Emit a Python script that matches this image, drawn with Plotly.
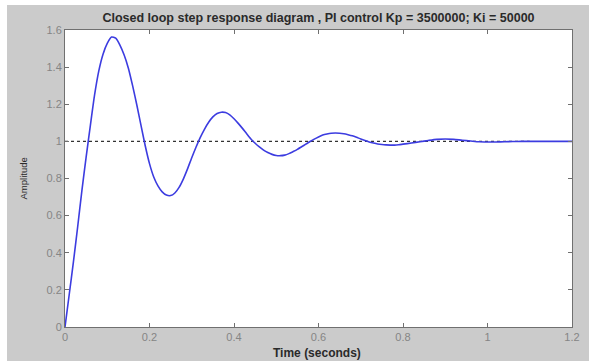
import plotly.graph_objects as go

time_s = [0.00, 0.01, 0.02, 0.03, 0.04, 0.05, 0.06, 0.07, 0.08, 0.09,
          0.10, 0.11, 0.12, 0.13, 0.14, 0.15, 0.16, 0.17, 0.18, 0.19,
          0.20, 0.21, 0.22, 0.23, 0.24, 0.25, 0.26, 0.27, 0.28, 0.29,
          0.30, 0.31, 0.32, 0.33, 0.34, 0.35, 0.36, 0.37, 0.38, 0.39,
          0.40, 0.41, 0.42, 0.43, 0.44, 0.45, 0.46, 0.47, 0.48, 0.49,
          0.50, 0.51, 0.52, 0.53, 0.54, 0.55, 0.56, 0.57, 0.58, 0.59,
          0.60, 0.61, 0.62, 0.63, 0.64, 0.65, 0.66, 0.67, 0.68, 0.69,
          0.70, 0.71, 0.72, 0.73, 0.74, 0.75, 0.76, 0.77, 0.78, 0.79,
          0.80, 0.82, 0.84, 0.86, 0.88, 0.90, 0.92, 0.94, 0.96, 0.98,
          1.00, 1.02, 1.04, 1.06, 1.08, 1.10, 1.20]
amplitude = [0.000, 0.175, 0.352, 0.540, 0.735, 0.915, 1.085, 1.250, 1.380, 1.470,
             1.528, 1.562, 1.556, 1.519, 1.465, 1.394, 1.300, 1.196, 1.085, 0.975,
             0.880, 0.808, 0.760, 0.728, 0.711, 0.708, 0.722, 0.752, 0.797, 0.852,
             0.912, 0.968, 1.020, 1.065, 1.103, 1.132, 1.150, 1.157, 1.155, 1.143,
             1.122, 1.097, 1.070, 1.041, 1.013, 0.990, 0.970, 0.953, 0.940, 0.930,
             0.924, 0.923, 0.926, 0.934, 0.945, 0.957, 0.971, 0.985, 0.999, 1.012,
             1.024, 1.034, 1.040, 1.044, 1.045, 1.044, 1.041, 1.036, 1.030, 1.022,
             1.013, 1.005, 0.997, 0.991, 0.986, 0.983, 0.981, 0.980, 0.980, 0.982,
             0.985, 0.991, 0.998, 1.005, 1.011, 1.013, 1.011, 1.006, 1.002, 0.998,
             0.997, 0.997, 0.998, 0.999, 1.000, 1.000, 1.000]
steady_t = [0, 1.1]
steady_val = [1, 1]

x_ticks = [0, 0.2, 0.4, 0.6, 0.8, 1, 1.2]
x_labels = ["0", "0.2", "0.4", "0.6", "0.8", "1", "1.2"]
y_ticks = [0, 0.2, 0.4, 0.6, 0.8, 1, 1.2, 1.4, 1.6]
y_labels = ["0", "0.2", "0.4", "0.6", "0.8", "1", "1.2", "1.4", "1.6"]

title_text = "Closed loop step response diagram , PI control Kp = 3500000; Ki = 50000"
x_title = "Time (seconds)"
y_title = "Amplitude"

fig = go.Figure()
fig.add_trace(go.Scatter(x=steady_t, y=steady_val, mode="lines",
                         line=dict(color="#333333", width=1.2, dash="3px,3px"),
                         hoverinfo="skip", showlegend=False))
fig.add_trace(go.Scatter(x=time_s, y=amplitude, mode="lines",
                         line=dict(color="#3c3ce0", width=1.6, shape="spline", smoothing=0.6),
                         showlegend=False))

axis_common = dict(showgrid=False, zeroline=False, showline=True, linecolor="#707070",
                   linewidth=1, mirror="ticks", ticks="inside", ticklen=4,
                   tickcolor="#707070", automargin=False,
                   tickfont=dict(family="Liberation Sans, Arial", size=11, color="#858585"))

fig.update_layout(
    width=589, height=361,
    margin=dict(l=65, r=17, t=30, b=34),
    paper_bgcolor="#cbcbcb", plot_bgcolor="white",
    title=dict(text=title_text, x=(65 + 572) / 2 / 589, xanchor="center",
               y=1 - 18 / 361, yanchor="middle",
               font=dict(family="Liberation Sans, Arial", size=12.5, color="#2a2a2a", weight="bold")),
    xaxis=dict(range=[0, 1.2], tickvals=x_ticks, ticktext=x_labels, **axis_common),
    yaxis=dict(range=[0, 1.6], tickvals=y_ticks, ticktext=y_labels, **axis_common),
    annotations=[
        dict(text=x_title, xref="paper", yref="paper", x=0.498, y=(327 - 353) / 297,
             xanchor="center", yanchor="middle", showarrow=False,
             font=dict(family="Liberation Sans, Arial", size=12, color="#2a2a2a", weight="bold")),
        dict(text=y_title, xref="paper", yref="paper", x=(23 - 65) / 507, y=0.5,
             xanchor="center", yanchor="middle", showarrow=False, textangle=-90,
             font=dict(family="Liberation Sans, Arial", size=9.5, color="#2a2a2a")),
    ],
    shapes=[
        dict(type="rect", xref="paper", yref="paper", x0=-0.2, x1=-58 / 507,
             y0=-0.2, y1=1.2, fillcolor="white", line=dict(width=0), layer="below"),
        dict(type="rect", xref="paper", yref="paper", x0=-0.2, x1=1.2,
             y0=(327 - 5) / 297, y1=1.2, fillcolor="white", line=dict(width=0), layer="below"),
    ],
)

fig.write_html("out.html")
